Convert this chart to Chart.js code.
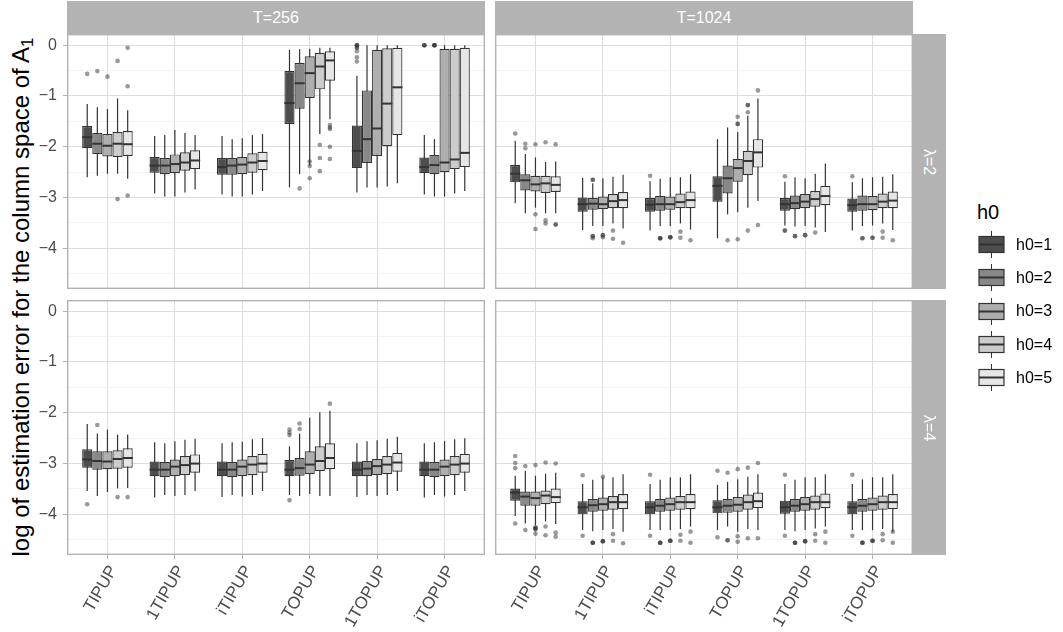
<!DOCTYPE html>
<html><head><meta charset="utf-8">
<script src="https://cdn.jsdelivr.net/npm/chart.js@4.4.1/dist/chart.umd.min.js"></script>
<style>
body{margin:0;background:#fff;}
#wrap{position:relative;width:1063px;height:632px;overflow:hidden;font-family:"Liberation Sans",Arial,sans-serif;background:#fff;}
#wrap canvas.panel{position:absolute;}
.strip{position:absolute;background:#b3b3b3;color:#fff;font-size:16px;display:flex;align-items:center;justify-content:center;}
.vtext{transform:rotate(90deg);white-space:nowrap;}
#ytitle{position:absolute;left:21px;top:297px;transform:translate(-50%,-50%) rotate(-90deg);white-space:nowrap;font-size:24px;color:#000;}
#ytitle sub{font-size:70%;vertical-align:-0.25em;line-height:0;}
#legend{position:absolute;left:977px;top:198px;}
#legend .ttl{font-size:20px;color:#000;height:30px;line-height:28px;}
#legend .row{display:flex;align-items:center;height:33.3px;}
#legend .row span{font-size:16px;color:#000;margin-left:11px;}
</style>
</head><body>
<div id="wrap">
  <div id="ytitle">log of estimation error for the column space of A<sub>1</sub></div>
  <div id="legend"></div>
</div>
<script>
// ---------------- data ----------------
const categories = ['TIPUP','1TIPUP','iTIPUP','TOPUP','1TOPUP','iTOPUP'];
const groups = ['h0=1','h0=2','h0=3','h0=4','h0=5'];
const legendTitle = 'h0';
const colTitles = ['T=256','T=1024'];
const rowTitles = ['\u03bb=2','\u03bb=4'];
const yMajorTicks = [0,-1,-2,-3,-4];
const yMinorTicks = [-0.5,-1.5,-2.5,-3.5,-4.5];

// five-number summaries: [h0][category] = [lower whisker, Q1, median, Q3, upper whisker]
const stats_T256_L2 = [
  [[-2.60,-2.03,-1.81,-1.59,-1.16],[-2.92,-2.51,-2.37,-2.20,-1.79],[-2.94,-2.55,-2.40,-2.22,-1.79],[-2.80,-1.55,-1.14,-0.51,-0.09],[-2.90,-2.42,-2.08,-1.58,-0.60],[-2.94,-2.52,-2.40,-2.21,-1.77]],
  [[-2.57,-2.14,-1.94,-1.73,-1.22],[-2.98,-2.54,-2.37,-2.22,-1.77],[-2.98,-2.55,-2.37,-2.22,-1.85],[-2.54,-1.25,-0.75,-0.35,-0.08],[-2.80,-2.32,-1.85,-0.89,0.00],[-2.98,-2.54,-2.36,-2.16,-1.85]],
  [[-2.53,-2.19,-1.98,-1.75,-1.26],[-2.98,-2.52,-2.34,-2.15,-1.67],[-2.98,-2.54,-2.35,-2.20,-1.83],[-2.37,-1.04,-0.55,-0.22,-0.07],[-2.80,-2.18,-1.64,-0.09,0.00],[-2.98,-2.50,-2.31,-0.07,0.00]],
  [[-2.53,-2.20,-1.94,-1.71,-1.05],[-2.90,-2.47,-2.31,-2.11,-1.73],[-2.94,-2.51,-2.31,-2.13,-1.77],[-1.75,-0.87,-0.42,-0.15,-0.05],[-2.78,-1.99,-1.15,-0.06,0.00],[-2.92,-2.44,-2.25,-0.07,0.00]],
  [[-2.63,-2.18,-1.95,-1.69,-1.28],[-2.84,-2.44,-2.27,-2.07,-1.77],[-2.87,-2.46,-2.28,-2.10,-1.75],[-1.46,-0.70,-0.30,-0.12,-0.05],[-2.72,-1.77,-0.83,-0.05,0.00],[-2.87,-2.40,-2.12,-0.05,0.00]]
];
// outliers: [category, h0 index, value]
const out_T256_L2 = [
  [0,0,-0.565],[0,1,-0.51],[0,2,-0.62],[0,3,-0.31],[0,3,-3.03],[0,4,-0.05],[0,4,-0.81],[0,4,-2.96],
  [3,1,-2.82],[3,2,-2.29],[3,2,-2.38],[3,2,-2.62],[3,3,-1.96],[3,3,-2.22],[3,3,-2.48],
  [3,4,-1.57],[3,4,-1.62],[3,4,-1.65],[3,4,-2.00],[3,4,-2.24],
  [4,0,0.00],[4,0,0.00],[4,0,0.00],[4,0,-0.05],[4,0,-0.05],[4,0,-0.12],[4,0,-0.24],[4,0,-0.32],
  [5,0,0.00],[5,0,0.00],[5,0,0.00],[5,1,0.00],[5,1,0.00],[5,1,0.00],[5,1,0.00]
];

const stats_T1024_L2 = [
  [[-3.11,-2.70,-2.53,-2.36,-1.88],[-3.64,-3.28,-3.13,-3.00,-2.61],[-3.65,-3.28,-3.14,-3.01,-2.68],[-3.80,-3.08,-2.77,-2.58,-1.85],[-3.55,-3.26,-3.13,-3.01,-2.69],[-3.65,-3.28,-3.15,-3.02,-2.70]],
  [[-3.31,-2.86,-2.66,-2.54,-2.14],[-3.56,-3.24,-3.12,-3.01,-2.72],[-3.56,-3.26,-3.13,-2.97,-2.63],[-3.33,-2.92,-2.62,-2.37,-1.62],[-3.57,-3.23,-3.11,-2.96,-2.60],[-3.56,-3.26,-3.13,-2.96,-2.62]],
  [[-3.20,-2.88,-2.74,-2.57,-2.21],[-3.56,-3.23,-3.13,-2.98,-2.62],[-3.56,-3.24,-3.13,-2.98,-2.60],[-3.29,-2.69,-2.42,-2.24,-1.71],[-3.56,-3.21,-3.08,-2.93,-2.62],[-3.55,-3.25,-3.13,-2.97,-2.60]],
  [[-3.31,-2.91,-2.72,-2.57,-2.30],[-3.51,-3.21,-3.07,-2.93,-2.59],[-3.51,-3.21,-3.09,-2.92,-2.60],[-3.20,-2.56,-2.28,-2.08,-1.39],[-3.59,-3.18,-3.03,-2.87,-2.53],[-3.51,-3.21,-3.08,-2.92,-2.59]],
  [[-3.31,-2.89,-2.75,-2.58,-2.29],[-3.61,-3.21,-3.05,-2.89,-2.55],[-3.63,-3.21,-3.05,-2.88,-2.54],[-3.07,-2.41,-2.11,-1.85,-1.05],[-3.68,-3.15,-2.97,-2.77,-2.33],[-3.64,-3.21,-3.06,-2.88,-2.54]]
];
const out_T1024_L2 = [
  [0,0,-1.74],[0,1,-1.94],[0,1,-2.03],[0,2,-1.95],[0,2,-3.33],[0,2,-3.62],[0,3,-1.91],[0,3,-3.45],[0,3,-3.51],[0,4,-1.95],[0,4,-3.53],[0,4,-3.53],
  [1,1,-2.65],[1,1,-2.65],[1,1,-3.76],[1,1,-3.76],[1,1,-3.80],[1,2,-3.74],[1,2,-3.74],[1,2,-3.78],[1,3,-3.65],[1,3,-3.81],[1,4,-3.89],
  [2,0,-2.57],[2,1,-3.80],[2,1,-3.80],[2,1,-3.80],[2,2,-3.78],[2,2,-3.78],[2,2,-3.78],[2,3,-3.67],[2,3,-3.79],[2,4,-3.84],
  [3,1,-3.84],[3,2,-1.41],[3,2,-1.55],[3,2,-1.55],[3,2,-3.82],[3,3,-1.18],[3,3,-1.18],[3,3,-1.32],[3,3,-3.65],[3,4,-0.89],[3,4,-3.54],
  [4,0,-2.58],[4,0,-3.65],[4,0,-3.65],[4,1,-3.76],[4,1,-3.76],[4,2,-3.74],[4,2,-3.74],[4,3,-3.69],
  [5,0,-2.58],[5,1,-3.80],[5,1,-3.80],[5,2,-3.79],[5,2,-3.79],[5,3,-3.67],[5,3,-3.79],[5,4,-3.84]
];

const stats_T256_L4 = [
  [[-3.54,-3.08,-2.92,-2.72,-2.22],[-3.67,-3.25,-3.12,-2.96,-2.58],[-3.66,-3.25,-3.12,-2.96,-2.60],[-3.62,-3.25,-3.12,-2.93,-2.66],[-3.66,-3.25,-3.12,-2.96,-2.60],[-3.67,-3.25,-3.12,-2.96,-2.60]],
  [[-3.64,-3.12,-2.95,-2.76,-2.41],[-3.62,-3.27,-3.12,-2.97,-2.60],[-3.62,-3.27,-3.12,-2.97,-2.58],[-3.64,-3.24,-3.09,-2.89,-2.41],[-3.62,-3.25,-3.10,-2.95,-2.56],[-3.62,-3.27,-3.12,-2.97,-2.58]],
  [[-3.56,-3.11,-2.96,-2.76,-2.33],[-3.64,-3.25,-3.06,-2.92,-2.56],[-3.65,-3.25,-3.06,-2.92,-2.57],[-3.60,-3.21,-3.02,-2.76,-2.10],[-3.64,-3.23,-3.05,-2.91,-2.54],[-3.65,-3.25,-3.06,-2.92,-2.56]],
  [[-3.49,-3.10,-2.91,-2.74,-2.43],[-3.62,-3.23,-3.03,-2.85,-2.53],[-3.62,-3.23,-3.02,-2.85,-2.52],[-3.64,-3.15,-2.95,-2.66,-1.99],[-3.62,-3.21,-3.02,-2.85,-2.51],[-3.62,-3.23,-3.02,-2.85,-2.52]],
  [[-3.48,-3.08,-2.89,-2.70,-2.43],[-3.54,-3.18,-3.00,-2.82,-2.51],[-3.54,-3.18,-3.00,-2.81,-2.50],[-3.64,-3.11,-2.89,-2.60,-1.96],[-3.54,-3.16,-2.98,-2.79,-2.47],[-3.54,-3.18,-3.00,-2.81,-2.50]]
];
const out_T256_L4 = [
  [0,0,-3.80],[0,1,-2.24],[0,3,-3.66],[0,4,-3.66],
  [3,0,-2.33],[3,0,-2.39],[3,0,-2.44],[3,0,-3.72],[3,1,-2.21],[3,1,-2.32],[3,4,-1.82]
];

const stats_T1024_L4 = [
  [[-4.03,-3.73,-3.57,-3.49,-3.24],[-4.31,-4.00,-3.86,-3.74,-3.40],[-4.31,-4.00,-3.86,-3.74,-3.40],[-4.31,-3.98,-3.86,-3.72,-3.42],[-4.31,-3.99,-3.86,-3.73,-3.40],[-4.31,-4.00,-3.86,-3.74,-3.40]],
  [[-4.18,-3.83,-3.65,-3.55,-3.14],[-4.33,-3.95,-3.82,-3.70,-3.32],[-4.31,-3.95,-3.83,-3.70,-3.32],[-4.24,-3.97,-3.83,-3.70,-3.36],[-4.33,-3.95,-3.83,-3.70,-3.32],[-4.31,-3.95,-3.83,-3.70,-3.31]],
  [[-4.21,-3.83,-3.68,-3.55,-3.24],[-4.31,-3.93,-3.80,-3.67,-3.27],[-4.31,-3.93,-3.80,-3.67,-3.27],[-4.34,-3.95,-3.81,-3.66,-3.31],[-4.31,-3.93,-3.80,-3.66,-3.27],[-4.31,-3.93,-3.80,-3.67,-3.27]],
  [[-4.14,-3.80,-3.63,-3.53,-3.20],[-4.29,-3.91,-3.76,-3.64,-3.27],[-4.29,-3.91,-3.76,-3.64,-3.27],[-4.29,-3.91,-3.76,-3.61,-3.26],[-4.28,-3.91,-3.76,-3.63,-3.27],[-4.29,-3.91,-3.76,-3.63,-3.27]],
  [[-4.19,-3.78,-3.66,-3.49,-3.18],[-4.34,-3.90,-3.76,-3.60,-3.21],[-4.24,-3.90,-3.76,-3.60,-3.21],[-4.31,-3.88,-3.74,-3.57,-3.21],[-4.24,-3.88,-3.76,-3.59,-3.21],[-4.34,-3.90,-3.76,-3.60,-3.21]]
];
const out_T1024_L4 = [
  [0,0,-2.85],[0,0,-2.99],[0,0,-3.09],[0,0,-4.18],[0,1,-3.05],[0,1,-4.31],[0,2,-3.03],[0,2,-4.26],[0,2,-4.26],[0,2,-4.29],[0,2,-4.29],[0,2,-4.38],
  [0,3,-2.98],[0,3,-4.24],[0,3,-4.41],[0,4,-3.00],[0,4,-4.36],[0,4,-4.44],
  [1,0,-3.23],[1,0,-4.42],[1,1,-4.56],[1,1,-4.56],[1,1,-4.56],[1,2,-3.26],[1,2,-4.53],[1,2,-4.53],[1,2,-4.53],[1,3,-4.39],[1,3,-4.52],[1,4,-4.57],
  [2,0,-3.22],[2,0,-4.42],[2,1,-4.56],[2,1,-4.56],[2,1,-4.56],[2,2,-4.52],[2,2,-4.52],[2,2,-4.52],[2,3,-4.40],[2,3,-4.52],[2,4,-4.34],[2,4,-4.56],
  [3,0,-3.14],[3,0,-4.45],[3,1,-3.18],[3,1,-4.51],[3,1,-4.51],[3,2,-3.11],[3,2,-4.43],[3,2,-4.54],[3,3,-3.08],[3,3,-4.47],[3,4,-2.99],[3,4,-4.47],
  [4,0,-3.22],[4,0,-4.42],[4,1,-4.56],[4,1,-4.56],[4,1,-4.56],[4,2,-4.53],[4,2,-4.53],[4,2,-4.53],[4,3,-4.39],[4,3,-4.52],[4,4,-4.34],[4,4,-4.56],
  [5,0,-3.22],[5,0,-4.42],[5,1,-4.56],[5,1,-4.56],[5,1,-4.56],[5,2,-4.52],[5,2,-4.52],[5,2,-4.52],[5,3,-4.39],[5,3,-4.51],[5,4,-4.34],[5,4,-4.56]
];

// ---------------- styling ----------------
const FILLS = ['#4d4d4d','#888888','#aeaeae','#cccccc','#e6e6e6'];
const LINE = '#333333';
const FONT = '"Liberation Sans", Arial, sans-serif';
Chart.defaults.font.family = FONT;

const boxPlugin = {
  id: 'boxplot',
  beforeDatasetsDraw(chart, args, opts) {
    const ctx = chart.ctx, ys = chart.scales.y;
    ctx.save();
    ctx.strokeStyle = LINE; ctx.lineWidth = 1.2;
    chart.data.datasets.forEach((ds, g) => {
      chart.getDatasetMeta(g).data.forEach((el, c) => {
        const s = opts.stats[g][c];
        ctx.beginPath();
        ctx.moveTo(el.x, ys.getPixelForValue(s[0]));
        ctx.lineTo(el.x, ys.getPixelForValue(s[4]));
        ctx.stroke();
      });
    });
    ctx.restore();
  },
  afterDatasetsDraw(chart, args, opts) {
    const ctx = chart.ctx, ys = chart.scales.y;
    ctx.save();
    ctx.strokeStyle = LINE; ctx.lineWidth = 2;
    chart.data.datasets.forEach((ds, g) => {
      chart.getDatasetMeta(g).data.forEach((el, c) => {
        const m = ys.getPixelForValue(opts.stats[g][c][2]);
        ctx.beginPath();
        ctx.moveTo(el.x - el.width / 2, m);
        ctx.lineTo(el.x + el.width / 2, m);
        ctx.stroke();
      });
    });
    ctx.fillStyle = 'rgba(51,51,51,0.5)';
    opts.outliers.forEach(([c, g, v]) => {
      const el = chart.getDatasetMeta(g).data[c];
      ctx.beginPath();
      ctx.arc(el.x, ys.getPixelForValue(v), 2.3, 0, Math.PI * 2);
      ctx.fill();
    });
    ctx.restore();
  },
  afterDraw(chart) {
    const a = chart.chartArea, ctx = chart.ctx;
    ctx.save();
    ctx.strokeStyle = '#b3b3b3'; ctx.lineWidth = 1.4;
    ctx.strokeRect(a.left + 0.7, a.top + 0.7, a.right - a.left - 1.4, a.bottom - a.top - 1.4);
    ctx.restore();
  }
};

function makePanel(cfg) {
  const cv = document.createElement('canvas');
  cv.className = 'panel';
  cv.style.left = cfg.left + 'px'; cv.style.top = cfg.top + 'px';
  cv.style.width = cfg.w + 'px'; cv.style.height = cfg.h + 'px';
  cv.width = cfg.w; cv.height = cfg.h;
  document.getElementById('wrap').appendChild(cv);
  const yAll = yMajorTicks.concat(yMinorTicks).sort((a, b) => a - b);
  const isMajor = v => yMajorTicks.includes(v);
  const datasets = groups.map((name, g) => ({
    label: name,
    data: categories.map((c, i) => ({ x: i, y: [cfg.stats[g][i][1], cfg.stats[g][i][3]] })),
    backgroundColor: FILLS[g],
    borderColor: LINE,
    borderWidth: 1.2,
    borderSkipped: false,
    categoryPercentage: 0.75,
    barPercentage: 1.0
  }));
  return new Chart(cv, {
    type: 'bar',
    data: { datasets },
    options: {
      responsive: false, animation: false,
      layout: { padding: 0 },
      plugins: { legend: { display: false }, tooltip: { enabled: false },
        boxplot: { stats: cfg.stats, outliers: cfg.outliers } },
      scales: {
        x: {
          type: 'linear', min: -0.6, max: 5.6, offset: false,
          afterBuildTicks: s => { s.ticks = categories.map((c, i) => ({ value: i })); },
          ticks: { display: cfg.showX, autoSkip: false, minRotation: 60, maxRotation: 60, padding: 3, labelOffset: 6,
            color: '#4d4d4d', font: { size: 17, family: FONT },
            callback: v => categories[v] },
          grid: { offset: false, color: '#dedede', lineWidth: 1, drawTicks: cfg.showX, tickLength: 4, tickColor: '#b3b3b3' },
          border: { display: false },
          afterFit: s => { s.height = cfg.showX ? cfg.h - cfg.ph : 0; s.paddingLeft = 0; s.paddingRight = 0; }
        },
        y: {
          type: 'linear', min: -4.8, max: 0.22,
          afterBuildTicks: s => { s.ticks = yAll.map(v => ({ value: v })); },
          ticks: { display: cfg.showY, padding: 6, color: '#4d4d4d', font: { size: 16, family: FONT },
            callback: v => isMajor(v) ? (v < 0 ? '\u2212' + Math.abs(v) : String(v)) : '' },
          grid: {
            color: c => isMajor(c.tick.value) ? '#dedede' : '#ebebeb',
            lineWidth: c => isMajor(c.tick.value) ? 1 : 0.6,
            drawTicks: cfg.showY, tickLength: 4,
            tickColor: c => isMajor(c.tick.value) ? '#b3b3b3' : 'rgba(0,0,0,0)'
          },
          border: { display: false },
          afterFit: s => { s.width = cfg.showY ? cfg.w - cfg.pw : 0; s.paddingTop = 0; s.paddingBottom = 0; }
        }
      }
    },
    plugins: [boxPlugin]
  });
}

const PW = 418, PH = 255;
const colX = [67, 495];
const rowY = [34, 300];
const panelStats = [[stats_T256_L2, stats_T1024_L2], [stats_T256_L4, stats_T1024_L4]];
const panelOut = [[out_T256_L2, out_T1024_L2], [out_T256_L4, out_T1024_L4]];

for (let r = 0; r < 2; r++) {
  for (let c = 0; c < 2; c++) {
    const showY = c === 0, showX = r === 1;
    const left = showY ? 0 : colX[c];
    const w = colX[c] + PW - left;
    const h = showX ? 632 - rowY[r] : PH;
    makePanel({ left, top: rowY[r], w, h, pw: PW, ph: PH, showX, showY,
      stats: panelStats[r][c], outliers: panelOut[r][c] });
  }
}

// facet strips
const wrap = document.getElementById('wrap');
colTitles.forEach((t, c) => {
  const d = document.createElement('div');
  d.className = 'strip';
  d.style.left = colX[c] + 'px'; d.style.top = '1px';
  d.style.width = PW + 'px'; d.style.height = (rowY[0] - 1) + 'px';
  d.textContent = t;
  wrap.appendChild(d);
});
rowTitles.forEach((t, r) => {
  const d = document.createElement('div');
  d.className = 'strip';
  d.style.left = (colX[1] + PW) + 'px'; d.style.top = rowY[r] + 'px';
  d.style.width = '33px'; d.style.height = PH + 'px';
  const s = document.createElement('div'); s.className = 'vtext'; s.textContent = t;
  d.appendChild(s);
  wrap.appendChild(d);
});

// legend
const lg = document.getElementById('legend');
const tt = document.createElement('div'); tt.className = 'ttl'; tt.textContent = legendTitle; lg.appendChild(tt);
groups.forEach((name, g) => {
  const row = document.createElement('div'); row.className = 'row';
  const k = document.createElement('canvas'); k.width = 28; k.height = 33;
  k.style.width = '28px'; k.style.height = '33px';
  const x = k.getContext('2d');
  x.strokeStyle = LINE; x.lineWidth = 1;
  x.beginPath(); x.moveTo(14.5, 3); x.lineTo(14.5, 30); x.stroke();
  x.fillStyle = FILLS[g]; x.fillRect(2, 8.5, 25, 16);
  x.lineWidth = 1.2; x.strokeRect(2, 8.5, 25, 16);
  x.lineWidth = 2; x.beginPath(); x.moveTo(2, 16.5); x.lineTo(27, 16.5); x.stroke();
  row.appendChild(k);
  const sp = document.createElement('span'); sp.textContent = name; row.appendChild(sp);
  lg.appendChild(row);
});
</script>
</body></html>
